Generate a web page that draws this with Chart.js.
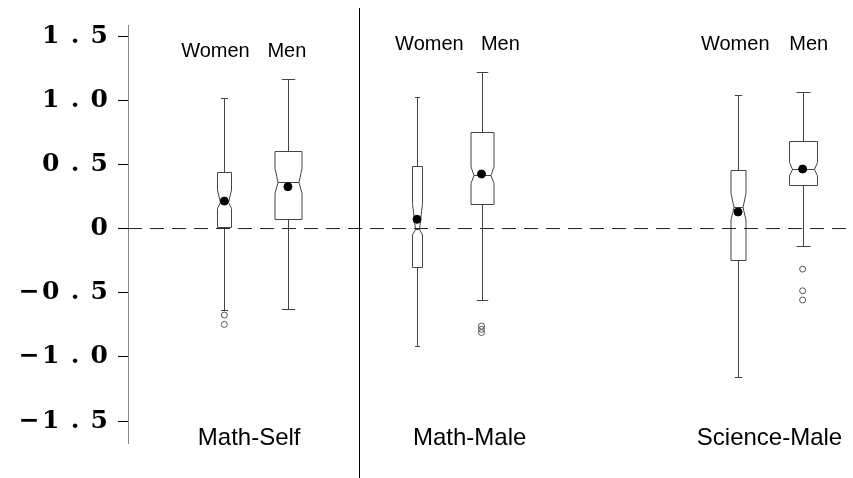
<!DOCTYPE html>
<html>
<head>
<meta charset="utf-8">
<script src="https://cdn.jsdelivr.net/npm/chart.js@4.4.1/dist/chart.umd.min.js"></script>
<style>
  html, body { margin: 0; padding: 0; background: #fff; }
  canvas { display: block; }
</style>
</head>
<body>
<canvas id="chart" width="853" height="478"></canvas>
<script>
// Datos: un box por grupo y sexo (Women, Men)
const groups = ['Math-Self', 'Math-Male', 'Science-Male'];
const sexes = ['Women', 'Men'];
const whiskerHigh = [1.015, 1.165, 1.022, 1.217, 1.043, 1.066];
const q3 = [0.438, 0.606, 0.487, 0.75, 0.456, 0.684];
const notchHigh = [0.30, 0.469, 0.196, 0.482, 0.274, 0.516];
const medians = [0.209, 0.36, 0.0, 0.417, 0.165, 0.464];
const notchLow = [0.157, 0.274, -0.05, 0.352, 0.066, 0.411];
const q1 = [0.014, 0.074, -0.302, 0.191, -0.245, 0.339];
const whiskerLow = [-0.635, -0.63, -0.916, -0.557, -1.155, -0.134];
const means = [0.214, 0.326, 0.072, 0.425, 0.129, 0.464];
const outliers = [[-0.674, -0.747], [], [], [-0.76, -0.785, -0.81], [], [-0.316, -0.485, -0.557]];
const yTicks = [-1.5, -1, -0.5, 0, 0.5, 1, 1.5];
const yTickLabels = ['−1.5', '−1.0', '−0.5', '0', '0.5', '1.0', '1.5'];

// Posiciones (unidades del eje x, 0-10)
const boxX = [1.338, 2.221, 4.014, 4.910, 8.473, 9.370];
const boxWidthPx = [14, 27, 10, 23, 15, 28];
const sexLabelX = [[1.214, 2.207], [4.186, 5.172], [8.434, 9.455]];
const sexLabelY = [1.383, 1.438, 1.438];
const groupLabelX = [1.683, 4.745, 8.91];
const groupLabelY = -1.632;
const dividerX = 3.214;

function spaced(label) {
    let out = '';
    label.split('').forEach((c, i) => {
        if (i > 0) out += (label[i - 1] === '−') ? '\u200A' : ' \u200A';
        out += c;
    });
    return out;
}

const outlierPoints = [];
outliers.forEach((list, i) => {
    list.forEach(v => outlierPoints.push({ x: boxX[i], y: v }));
});

const boxPlugin = {
    id: 'boxes',
    beforeDatasetsDraw(chart) {
        const ctx = chart.ctx;
        const xs = chart.scales.x;
        const ys = chart.scales.y;
        ctx.save();
        ctx.strokeStyle = '#444';
        ctx.lineWidth = 1;
        boxX.forEach((bx, i) => {
            const cx = Math.round(xs.getPixelForValue(bx)) + 0.5;
            const w = boxWidthPx[i] / 2;
            const wn = w - 3;
            const yq3 = Math.round(ys.getPixelForValue(q3[i])) + 0.5;
            const yq1 = Math.round(ys.getPixelForValue(q1[i])) + 0.5;
            const ynh = ys.getPixelForValue(notchHigh[i]);
            const ynl = ys.getPixelForValue(notchLow[i]);
            const ymed = Math.round(ys.getPixelForValue(medians[i])) + 0.5;
            const ywh = Math.round(ys.getPixelForValue(whiskerHigh[i])) + 0.5;
            const ywl = Math.round(ys.getPixelForValue(whiskerLow[i])) + 0.5;

            // caja con muesca
            ctx.beginPath();
            ctx.moveTo(cx - w, yq3);
            ctx.lineTo(cx + w, yq3);
            ctx.lineTo(cx + w, ynh);
            ctx.lineTo(cx + wn, ymed);
            ctx.lineTo(cx + w, ynl);
            ctx.lineTo(cx + w, yq1);
            ctx.lineTo(cx - w, yq1);
            ctx.lineTo(cx - w, ynl);
            ctx.lineTo(cx - wn, ymed);
            ctx.lineTo(cx - w, ynh);
            ctx.closePath();
            ctx.stroke();

            // mediana
            ctx.beginPath();
            ctx.moveTo(cx - wn, ymed);
            ctx.lineTo(cx + wn, ymed);
            ctx.stroke();

            // bigotes
            const cap = w / 2;
            ctx.beginPath();
            ctx.moveTo(cx, yq3);
            ctx.lineTo(cx, ywh);
            ctx.moveTo(cx - cap, ywh);
            ctx.lineTo(cx + cap, ywh);
            ctx.moveTo(cx, yq1);
            ctx.lineTo(cx, ywl);
            ctx.moveTo(cx - cap, ywl);
            ctx.lineTo(cx + cap, ywl);
            ctx.stroke();
        });
        ctx.restore();
    },
    afterDraw(chart) {
        const ctx = chart.ctx;
        const xs = chart.scales.x;
        const ys = chart.scales.y;
        ctx.save();
        // separador
        const dx = Math.round(xs.getPixelForValue(dividerX)) + 0.5;
        ctx.strokeStyle = '#000';
        ctx.lineWidth = 1;
        ctx.beginPath();
        ctx.moveTo(dx, 8);
        ctx.lineTo(dx, chart.height);
        ctx.stroke();

        ctx.fillStyle = '#000';
        ctx.textAlign = 'center';
        ctx.textBaseline = 'middle';
        ctx.font = '20px "Liberation Sans", Arial, sans-serif';
        groups.forEach((g, gi) => {
            sexes.forEach((s, si) => {
                ctx.fillText(s, xs.getPixelForValue(sexLabelX[gi][si]), ys.getPixelForValue(sexLabelY[gi]));
            });
        });
        ctx.font = '24px "Liberation Sans", Arial, sans-serif';
        groups.forEach((g, gi) => {
            ctx.fillText(g, xs.getPixelForValue(groupLabelX[gi]), ys.getPixelForValue(groupLabelY));
        });
        ctx.restore();
    }
};

new Chart(document.getElementById('chart'), {
    type: 'scatter',
    data: {
        datasets: [
            {
                type: 'line',
                data: [{ x: 0, y: 0 }, { x: 10, y: 0 }],
                borderColor: '#222',
                borderWidth: 1,
                borderDash: [14, 8],
                pointRadius: 0
            },
            {
                data: boxX.map((x, i) => ({ x: x, y: means[i] })),
                backgroundColor: '#000',
                borderColor: '#000',
                pointRadius: 4
            },
            {
                data: outlierPoints,
                backgroundColor: 'rgba(0,0,0,0)',
                borderColor: '#555',
                borderWidth: 1,
                pointRadius: 3
            }
        ]
    },
    options: {
        responsive: false,
        animation: false,
        layout: { padding: { top: 25, bottom: 35, left: 0, right: 0 } },
        plugins: {
            legend: { display: false },
            tooltip: { enabled: false }
        },
        scales: {
            x: {
                type: 'linear',
                min: 0,
                max: 10,
                display: false
            },
            y: {
                type: 'linear',
                min: -1.671,
                max: 1.586,
                afterBuildTicks: (scale) => {
                    scale.ticks = yTicks.map(v => ({ value: v }));
                },
                afterFit: (scale) => {
                    scale.width = 128;
                },
                ticks: {
                    padding: 10,
                    color: '#000',
                    font: { family: '"DejaVu Serif"', size: 25, weight: 'bold' },
                    callback: function(value) {
                        const i = yTicks.indexOf(value);
                        return i >= 0 ? spaced(yTickLabels[i]) : '';
                    }
                },
                grid: {
                    drawOnChartArea: false,
                    drawTicks: true,
                    tickLength: 10,
                    color: '#000'
                },
                border: { color: '#888', width: 1 }
            }
        }
    },
    plugins: [boxPlugin]
});
</script>
</body>
</html>
